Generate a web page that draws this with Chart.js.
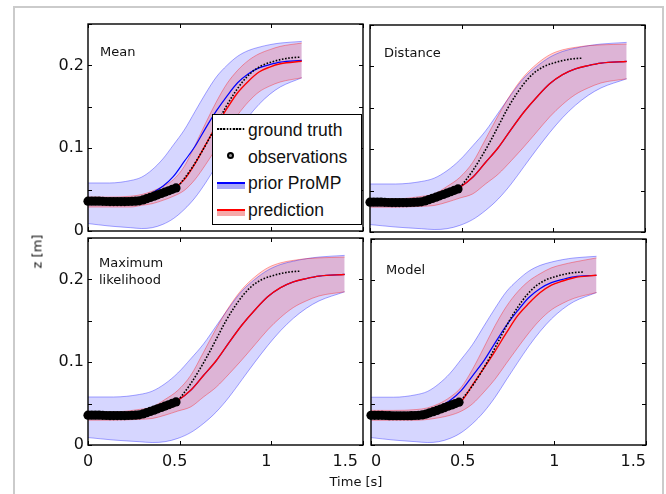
<!DOCTYPE html>
<html><head><meta charset="utf-8">
<script src="https://cdn.jsdelivr.net/npm/chart.js@4.4.1/dist/chart.umd.min.js"></script>
<style>
html,body{margin:0;padding:0;background:#fff;width:666px;height:494px;overflow:hidden;position:relative;font-family:'DejaVu Sans',sans-serif;}
#frame{position:absolute;left:13px;top:6px;width:647px;height:600px;border:2px solid #cbcbcb;}
canvas{position:absolute;left:0;top:0;}
.ptitle{position:absolute;font-size:13px;color:#111;line-height:16.5px;white-space:nowrap;}
#legend{position:absolute;left:212px;top:114px;width:148px;height:109px;border:1px solid #000;background:#fff;font-family:'Liberation Sans',Arial,sans-serif;font-size:17.5px;color:#111;}
.lrow{position:absolute;left:35px;line-height:20px;white-space:nowrap;}
.axt{position:absolute;font-size:13px;color:#111;white-space:nowrap;}
</style></head><body>
<div id="frame"></div>
<canvas id="cA" width="666" height="494"></canvas>
<canvas id="cB" width="666" height="494"></canvas>
<canvas id="cC" width="666" height="494"></canvas>
<canvas id="cD" width="666" height="494"></canvas>
<script>
// ---------- data ----------
const xTickValues = [0, 0.5, 1, 1.5];
const yLabelledTicks = [0, 0.1, 0.2];
const panelTitles = [['Mean'], ['Distance'], ['Maximum', 'likelihood'], ['Model']];
const legendLabels = ['ground truth', 'observations', 'prior ProMP', 'prediction'];
const xAxisTitle = 'Time [s]';
const yAxisTitle = 'z [m]';

// observations (black dots)
const obsTime = [0,0.02,0.04,0.06,0.08,0.10,0.12,0.14,0.16,0.18,0.20,0.22,0.24,0.26,0.28,0.30,0.32,0.34,0.36,0.38,0.40,0.42,0.44,0.46,0.48];
const obsZ    = [0.036,0.036,0.036,0.036,0.0358,0.0356,0.0355,0.0355,0.0355,0.0355,0.0355,0.0356,0.0358,0.036,0.0365,0.0375,0.039,0.0405,0.042,0.0437,0.0453,0.047,0.0486,0.0503,0.052];

// ground truth (dotted)
const truthTime = [0,0.1,0.2,0.3,0.4,0.48,0.52,0.56,0.6,0.65,0.7,0.75,0.8,0.85,0.9,0.95,1.0,1.05,1.1,1.16];
const truthZ    = [0.036,0.0356,0.0355,0.0375,0.0453,0.052,0.062,0.074,0.088,0.107,0.128,0.149,0.167,0.182,0.193,0.2,0.204,0.207,0.209,0.21];

// prior ProMP (same trajectory distribution, time-scaled per panel)
const priorMeanZ  = [0.035,0.035,0.037,0.039,0.046,0.054,0.066,0.084,0.102,0.124,0.145,0.163,0.179,0.19,0.197,0.201,0.204,0.206];
const priorUpperZ = [0.058,0.058,0.061,0.065,0.074,0.087,0.104,0.122,0.144,0.166,0.186,0.2,0.211,0.218,0.222,0.225,0.227,0.229];
const priorLowerZ = [0.009,0.006,0.004,0.003,0.004,0.008,0.015,0.026,0.04,0.058,0.079,0.1,0.12,0.138,0.153,0.165,0.174,0.185];

// sample times of each panel
const timeMean     = [0,0.117,0.233,0.292,0.35,0.408,0.466,0.525,0.583,0.641,0.7,0.758,0.816,0.875,0.933,0.991,1.049,1.166];
const timeDistance = [0,0.14,0.28,0.35,0.42,0.49,0.56,0.63,0.7,0.77,0.84,0.91,0.98,1.05,1.12,1.19,1.26,1.4];
const timeMaxLik   = [0,0.14,0.28,0.35,0.42,0.49,0.56,0.63,0.7,0.77,0.84,0.91,0.98,1.05,1.12,1.19,1.26,1.4];
const timeModel    = [0,0.123,0.246,0.308,0.369,0.431,0.492,0.554,0.615,0.677,0.738,0.8,0.861,0.923,0.984,1.046,1.107,1.23];

// predictions
const predMeanA  = [0.035,0.035,0.035,0.037,0.04,0.045,0.051,0.062,0.081,0.104,0.127,0.148,0.167,0.181,0.192,0.198,0.202,0.205];
const predUpperA = [0.041,0.041,0.042,0.044,0.048,0.054,0.062,0.078,0.103,0.13,0.156,0.178,0.194,0.206,0.214,0.219,0.223,0.227];
const predLowerA = [0.029,0.029,0.029,0.031,0.033,0.037,0.042,0.049,0.062,0.08,0.1,0.12,0.14,0.156,0.168,0.175,0.18,0.185];

const predMeanBC  = [0.035,0.035,0.037,0.039,0.046,0.054,0.066,0.084,0.102,0.124,0.145,0.163,0.179,0.19,0.197,0.201,0.204,0.206];
const predUpperBC = [0.04,0.04,0.043,0.046,0.055,0.066,0.084,0.112,0.141,0.167,0.188,0.203,0.214,0.22,0.223,0.225,0.226,0.227];
const predLowerBC = [0.03,0.03,0.031,0.032,0.036,0.041,0.046,0.058,0.07,0.086,0.103,0.121,0.139,0.154,0.166,0.174,0.18,0.185];

const predMeanD  = [0.035,0.035,0.036,0.037,0.04,0.045,0.053,0.073,0.093,0.114,0.136,0.157,0.172,0.185,0.194,0.199,0.203,0.206];
const predUpperD = [0.042,0.042,0.043,0.045,0.05,0.058,0.07,0.092,0.118,0.145,0.168,0.186,0.199,0.208,0.215,0.219,0.222,0.227];
const predLowerD = [0.03,0.03,0.03,0.031,0.033,0.036,0.041,0.05,0.064,0.08,0.099,0.118,0.136,0.152,0.164,0.172,0.178,0.185];

// ---------- panels ----------
const panels = [
  {id:'cA', time:timeMean, pm:predMeanA, pu:predUpperA, pl:predLowerA, area:{l:88,t:24,r:363,b:231}, xLabels:false, yLabels:true, lblOff:-5},
  {id:'cB', time:timeDistance, pm:predMeanBC, pu:predUpperBC, pl:predLowerBC, area:{l:370,t:25,r:645,b:232}, xLabels:false, yLabels:false, lblOff:0},
  {id:'cC', time:timeMaxLik, pm:predMeanBC, pu:predUpperBC, pl:predLowerBC, area:{l:88,t:238,r:363,b:445}, xLabels:true, yLabels:true, lblOff:-5},
  {id:'cD', time:timeModel, pm:predMeanD, pu:predUpperD, pl:predLowerD, area:{l:371,t:239,r:646,b:445}, xLabels:true, yLabels:false, lblOff:0}
];
const titlePos = [{x:100,y:44},{x:384,y:45},{x:99,y:255},{x:386,y:262}];

const Y_AXIS_W = 40, X_AXIS_H = 30, W = 666, H = 494;

const pts = (xs, ys) => xs.map((x, i) => ({x, y: ys[i]}));

const framePlugin = {
  id: 'frameTicks',
  afterDraw(chart) {
    const {ctx, chartArea: a, scales: {x, y}} = chart;
    ctx.save();
    ctx.strokeStyle = '#000';
    ctx.lineWidth = 1;
    const tl = 4;
    ctx.beginPath();
    x.ticks.forEach(t => {
      const px = Math.round(x.getPixelForValue(t.value)) + 0.5;
      ctx.moveTo(px, a.bottom); ctx.lineTo(px, a.bottom - tl);
      ctx.moveTo(px, a.top); ctx.lineTo(px, a.top + tl);
    });
    y.ticks.forEach(t => {
      const py = Math.round(y.getPixelForValue(t.value)) + 0.5;
      ctx.moveTo(a.left, py); ctx.lineTo(a.left + tl, py);
      ctx.moveTo(a.right, py); ctx.lineTo(a.right - tl, py);
    });
    ctx.stroke();
    ctx.lineWidth = 1.4;
    ctx.strokeRect(a.left, a.top, a.right - a.left, a.bottom - a.top);
    ctx.restore();
  }
};

Chart.defaults.font.family = "'DejaVu Sans', sans-serif";
Chart.defaults.font.size = 16;
Chart.defaults.color = '#111';

panels.forEach(p => {
  const blueFill = 'rgba(0,0,255,0.16)', redFill = 'rgba(255,0,0,0.16)';
  const datasets = [
    {data: pts(obsTime, obsZ), showLine:false, pointRadius:4.6, pointBackgroundColor:'#000', pointBorderWidth:0, order:0, clip:false},
    {data: pts(truthTime, truthZ), borderColor:'#000', borderWidth:1.6, borderDash:[1.6,1.6], pointRadius:0, order:1, cubicInterpolationMode:'monotone'},
    {data: pts(p.time, p.pm), borderColor:'#ff0000', borderWidth:1.4, pointRadius:0, order:2, cubicInterpolationMode:'monotone'},
    {data: pts(p.time, priorMeanZ), borderColor:'#0000ff', borderWidth:1.2, pointRadius:0, order:3, cubicInterpolationMode:'monotone'},
    {data: pts(p.time, p.pu), borderColor:'rgba(255,0,0,0.35)', borderWidth:1, pointRadius:0, order:4, fill:'+1', backgroundColor:redFill, cubicInterpolationMode:'monotone'},
    {data: pts(p.time, p.pl), borderColor:'rgba(255,0,0,0.35)', borderWidth:1, pointRadius:0, order:5, fill:false, cubicInterpolationMode:'monotone'},
    {data: pts(p.time, priorUpperZ), borderColor:'rgba(0,0,255,0.35)', borderWidth:1, pointRadius:0, order:6, fill:'+1', backgroundColor:blueFill, cubicInterpolationMode:'monotone'},
    {data: pts(p.time, priorLowerZ), borderColor:'rgba(0,0,255,0.35)', borderWidth:1, pointRadius:0, order:7, fill:false, cubicInterpolationMode:'monotone'}
  ];
  const a = p.area;
  new Chart(document.getElementById(p.id), {
    type: 'line',
    data: {datasets},
    options: {
      responsive: false, animation: false, events: [],
      devicePixelRatio: 1,
      layout: {padding: {left: a.l - Y_AXIS_W, top: a.t, right: W - a.r, bottom: H - a.b - X_AXIS_H}},
      plugins: {legend: {display:false}, tooltip: {enabled:false}, filler: {drawTime:'beforeDatasetsDraw'}},
      scales: {
        x: {type:'linear', min:0, max:1.5,
            grid:{display:false, drawTicks:false}, border:{display:false},
            afterBuildTicks: s => { s.ticks = xTickValues.map(v => ({value:v})); },
            ticks:{display:p.xLabels, padding:7, align:'inner', labelOffset:p.lblOff, callback: v => String(v), maxRotation:0, autoSkip:false},
            afterFit: s => { s.height = X_AXIS_H; }},
        y: {type:'linear', min:0, max:0.25,
            grid:{display:false, drawTicks:false}, border:{display:false},
            ticks:{display:p.yLabels, stepSize:0.05, padding:4,
                   callback: v => { const m = yLabelledTicks.find(t => Math.abs(t - v) < 1e-9); return m === undefined ? '' : String(m); }},
            afterFit: s => { s.width = Y_AXIS_W; }}
      }
    },
    plugins: [framePlugin]
  });
});

// panel titles
panelTitles.forEach((lines, i) => {
  const d = document.createElement('div');
  d.className = 'ptitle';
  d.style.left = titlePos[i].x + 'px';
  d.style.top = titlePos[i].y + 'px';
  d.innerHTML = lines.join('<br>');
  document.body.appendChild(d);
});

// legend
const legend = document.createElement('div');
legend.id = 'legend';
const rowCenters = [15.7, 43.3, 69.3, 96];
legendLabels.forEach((lab, i) => {
  const c = rowCenters[i];
  const r = document.createElement('div');
  r.className = 'lrow';
  r.style.top = (c - 11) + 'px';
  r.textContent = lab;
  legend.appendChild(r);
  const s = document.createElement('div');
  s.style.position = 'absolute';
  if (i === 0) {
    Object.assign(s.style, {left:'4px', width:'28px', top:(c - 2.5) + 'px', height:'1.6px',
      background:'repeating-linear-gradient(90deg,#000 0 1.6px,#bbb 1.6px 3.2px)'});
  } else if (i === 1) {
    Object.assign(s.style, {left:'14px', width:'3px', height:'3px', top:(c - 6) + 'px',
      border:'2.5px solid #000', borderRadius:'50%', background:'#999'});
  } else {
    const col = i === 2 ? '#0000ff' : '#ff0000';
    const band = i === 2 ? '#a9a9f7' : '#f6a9a9';
    Object.assign(s.style, {left:'4px', width:'28px', top:(c - 2) + 'px', height:'2px', background:col});
    const b = document.createElement('div');
    Object.assign(b.style, {position:'absolute', left:'4px', width:'28px', top:(c) + 'px', height:'5px', background:band});
    legend.appendChild(b);
  }
  legend.appendChild(s);
});
document.body.appendChild(legend);

// axis titles
const xt = document.createElement('div');
xt.className = 'axt';
xt.textContent = xAxisTitle;
Object.assign(xt.style, {left:'296px', width:'120px', textAlign:'center', top:'474px'});
document.body.appendChild(xt);
const yt = document.createElement('div');
yt.className = 'axt';
yt.textContent = yAxisTitle;
Object.assign(yt.style, {left:'17px', top:'244px', width:'40px', textAlign:'center', transform:'rotate(-90deg)'});
document.body.appendChild(yt);
</script>
</body></html>
